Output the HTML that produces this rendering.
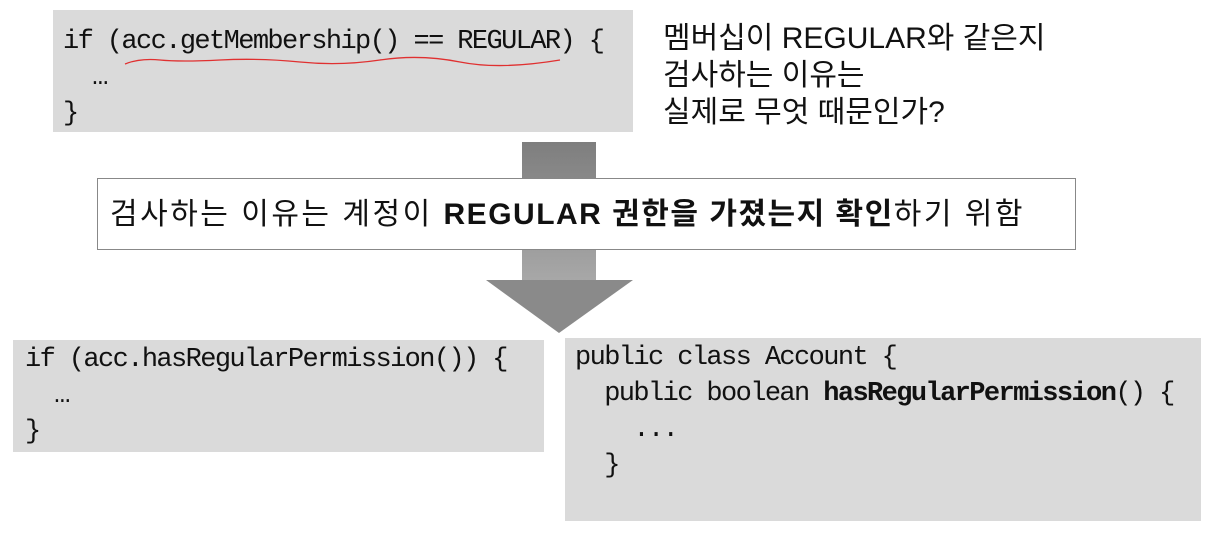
<!DOCTYPE html>
<html><head><meta charset="utf-8"><style>
body{margin:0;width:1214px;height:533px;background:#fff;position:relative;overflow:hidden}
.box{position:absolute;background:#dadada}
.code{position:absolute;font-family:"Liberation Mono","Noto Sans CJK KR",monospace;font-size:27px;letter-spacing:-1.6px;color:#111;white-space:pre;line-height:36px}
.kr{position:absolute;font-family:"Liberation Sans","Noto Sans CJK KR",sans-serif;color:#111;white-space:pre}
</style></head><body>
<div class="box" style="left:53px;top:10px;width:580px;height:122px"></div>
<div class="code" style="left:63px;top:24px">if (acc.getMembership() == REGULAR) {
  …
}</div>
<svg style="position:absolute;left:0;top:0" width="1214" height="533">
<path d="M125 64 Q140 58 160 60 T220 60 T300 62 T380 60 T460 62 T560 60" stroke="#e03030" stroke-width="1.3" fill="none"/>
<defs><linearGradient id="g" x1="0" y1="0" x2="0" y2="1"><stop offset="0" stop-color="#7e7e7e"/><stop offset="1" stop-color="#a8a8a8"/></linearGradient></defs>
<rect x="522" y="142" width="74" height="140" fill="url(#g)"/>
<polygon points="486,280 633,280 559,333" fill="#8a8a8a"/>
</svg>
<div class="kr" style="left:663px;top:20px;font-size:30px;line-height:37px">멤버십이 REGULAR와 같은지
검사하는 이유는
실제로 무엇 때문인가?</div>
<div style="position:absolute;left:97px;top:178px;width:977px;height:70px;background:#fff;border:1px solid #888"></div>
<div class="kr" style="left:110px;top:196px;font-size:30px;letter-spacing:2.5px;line-height:38px">검사하는 이유는 계정이 <b style="letter-spacing:1.5px">REGULAR 권한을 가졌는지 확인</b>하기 위함</div>
<div class="box" style="left:13px;top:340px;width:531px;height:112px"></div>
<div class="code" style="left:25px;top:342px">if (acc.hasRegularPermission()) {
  …
}</div>
<div class="box" style="left:565px;top:338px;width:636px;height:183px"></div>
<div class="code" style="left:575px;top:340px">public class Account {
  public boolean <b>hasRegularPermission</b>() {
    ...
  }</div>
</body></html>
